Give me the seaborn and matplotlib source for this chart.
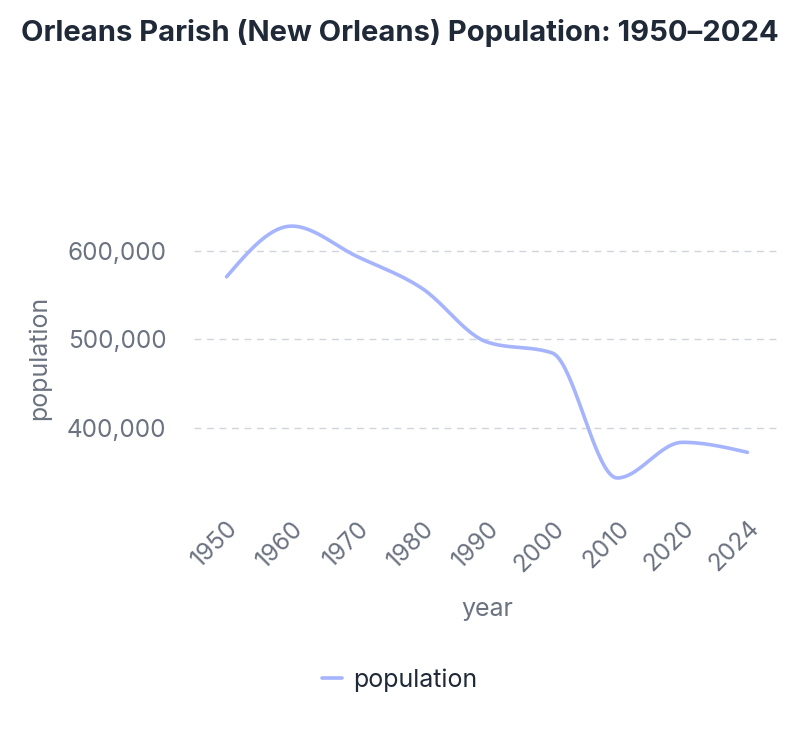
import numpy as np
import pandas as pd
import matplotlib
matplotlib.use("Agg")
import matplotlib.pyplot as plt
import seaborn as sns

# data
years = ["1950", "1960", "1970", "1980", "1990", "2000", "2010", "2020", "2024"]
population = [570445, 627525, 593471, 557515, 496938, 484674, 343829, 383997, 372700]

LINE_COLOR = "#a5b4fc"
TEXT_DARK = "#1f2937"
TEXT_GRAY = "#6b7280"


def monotone_curve(x, y, n=40):
    """monotone-x cubic curve through the points (like d3.curveMonotoneX)"""
    x = np.asarray(x, float)
    y = np.asarray(y, float)
    h = np.diff(x)
    s = np.diff(y) / h
    t = np.zeros_like(y)
    for i in range(1, len(y) - 1):
        p = (s[i - 1] * h[i] + s[i] * h[i - 1]) / (h[i - 1] + h[i])
        t[i] = (np.sign(s[i - 1]) + np.sign(s[i])) * min(abs(s[i - 1]), abs(s[i]), 0.5 * abs(p))
    t[0] = (3 * s[0] - t[1]) / 2
    t[-1] = (3 * s[-1] - t[-2]) / 2
    xs, ys = [], []
    for i in range(len(x) - 1):
        u = np.linspace(0, 1, n, endpoint=(i == len(x) - 2))
        h00 = 2 * u**3 - 3 * u**2 + 1
        h10 = u**3 - 2 * u**2 + u
        h01 = -2 * u**3 + 3 * u**2
        h11 = u**3 - u**2
        xs.append(x[i] + u * h[i])
        ys.append(h00 * y[i] + h10 * h[i] * t[i] + h01 * y[i + 1] + h11 * h[i] * t[i + 1])
    return np.concatenate(xs), np.concatenate(ys)


sns.set_theme(style="white")
plt.rcParams["font.family"] = ["Inter", "DejaVu Sans"]

pos = np.arange(len(years))
cx, cy = monotone_curve(pos, population)
curve = pd.DataFrame({"x": cx, "population": cy, "series": "population"})

fig = plt.figure(figsize=(8, 7.5), dpi=100)
ax = fig.add_axes([0.2425, 0.3333, 0.7325, 0.38])

sns.lineplot(data=curve, x="x", y="population", hue="series",
             palette=[LINE_COLOR], linewidth=2.6, ax=ax, legend=False)

ax.set_xlim(-0.5, len(years) - 0.5)
ax.set_ylim(319000, 640000)
ax.set_xticks(pos)
ax.set_xticklabels(years, rotation=45, ha="right", rotation_mode="anchor")
ax.set_yticks([400000, 500000, 600000])
ax.set_yticklabels([f"{v:,}" for v in [400000, 500000, 600000]])
ax.tick_params(axis="both", length=0, labelsize=17.5, labelcolor=TEXT_GRAY)
ax.tick_params(axis="x", pad=12)
ax.tick_params(axis="y", pad=20)

ax.yaxis.grid(True, linestyle=(0, (5, 4)), color="#d1d5db", linewidth=1)
ax.xaxis.grid(False)
for sp in ax.spines.values():
    sp.set_visible(False)

ax.set_xlabel("year", fontsize=18, color=TEXT_GRAY, labelpad=16)
ax.set_ylabel("population", fontsize=18, color=TEXT_GRAY, labelpad=11)

fig.suptitle("Orleans Parish (New Orleans) Population: 1950–2024",
             fontsize=21, fontweight="bold", color=TEXT_DARK, y=0.975)

handle = plt.Line2D([], [], color=LINE_COLOR, linewidth=2.6)
fig.legend([handle], ["population"], loc="center", bbox_to_anchor=(0.5, 0.093),
           frameon=False, fontsize=18, handlelength=0.8, handletextpad=0.45,
           labelcolor=TEXT_DARK)

fig.savefig("out.png", dpi=100)
